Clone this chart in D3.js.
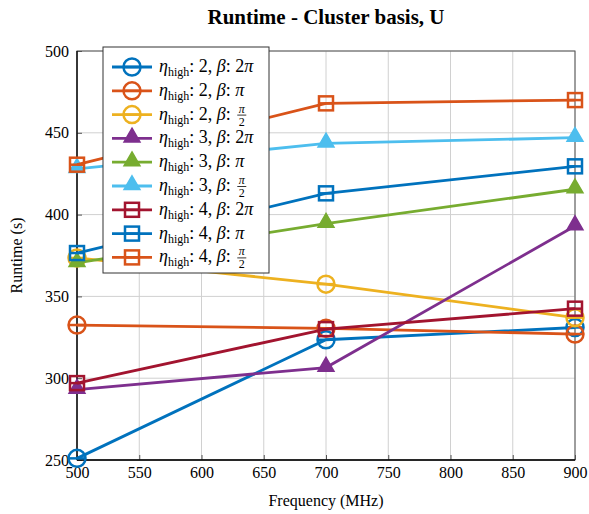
<!DOCTYPE html>
<html>
<head>
<meta charset="utf-8">
<script src="https://cdn.jsdelivr.net/npm/d3@7"></script>
<style>
body { margin: 0; background: #fff; }
text { font-family: "Liberation Serif", "DejaVu Serif", serif; }
</style>
</head>
<body>
<svg id="chart" width="589" height="514"></svg>
<script>
// dati
var frequenze = [500, 700, 900];
var etichetteX = [500, 550, 600, 650, 700, 750, 800, 850, 900];
var etichetteY = [250, 300, 350, 400, 450, 500];

var etaHigh = [2, 2, 2, 3, 3, 3, 4, 4, 4];
var beta = ["2π", "π", "π/2", "2π", "π", "π/2", "2π", "π", "π/2"];
var marcatori = ["circle", "circle", "circle", "triangle", "triangle", "triangle", "square", "square", "square"];
var colori = ["#0072BD", "#D95319", "#EDB120", "#7E2F8E", "#77AC30", "#4DBEEE", "#A2142F", "#0072BD", "#D95319"];

var valori = [
    [251, 323.5, 331],
    [332.5, 330.5, 327],
    [373.5, 357.5, 337],
    [293, 306.5, 393],
    [370.5, 394.5, 415.5],
    [428, 443.5, 447],
    [297, 330, 342.5],
    [376.5, 413, 429.5],
    [430.5, 468, 470]
];

var svg = d3.select("#chart");
var mSin = 77, mDes = 575, mSu = 51, mGiu = 460;

var x = d3.scaleLinear().domain([500, 900]).range([mSin, mDes]);
var y = d3.scaleLinear().domain([250, 500]).range([mGiu, mSu]);

// griglia
svg.append("g").selectAll("line").data(etichetteX).enter().append("line")
    .attr("x1", function(d){ return x(d); }).attr("x2", function(d){ return x(d); })
    .attr("y1", mSu).attr("y2", mGiu)
    .attr("stroke", "#d0d0d0").attr("stroke-width", 1);
svg.append("g").selectAll("line").data(etichetteY).enter().append("line")
    .attr("y1", function(d){ return y(d); }).attr("y2", function(d){ return y(d); })
    .attr("x1", mSin).attr("x2", mDes)
    .attr("stroke", "#d0d0d0").attr("stroke-width", 1);

// assi
var assex = d3.axisBottom(x).tickValues(etichetteX).tickSize(-5).tickPadding(7).tickFormat(d3.format("d"));
var assey = d3.axisLeft(y).tickValues(etichetteY).tickSize(-5).tickPadding(8).tickFormat(d3.format("d"));

var gx = svg.append("g").attr("transform", "translate(0," + mGiu + ")").call(assex);
var gy = svg.append("g").attr("transform", "translate(" + mSin + ",0)").call(assey);
[gx, gy].forEach(function(g){
    g.select(".domain").remove();
    g.selectAll(".tick line").attr("stroke", "#555");
    g.selectAll("text").attr("font-size", "16px").attr("fill", "#000")
        .style("font-family", "'Liberation Serif', serif");
});

// bordo
svg.append("rect").attr("x", mSin).attr("y", mSu).attr("width", mDes - mSin).attr("height", mGiu - mSu)
    .attr("fill", "none").attr("stroke", "#555").attr("stroke-width", 1);
svg.append("line").attr("x1", mSin).attr("x2", mSin).attr("y1", mSu).attr("y2", mGiu)
    .attr("stroke", "#000").attr("stroke-width", 1.3);
svg.append("line").attr("x1", mSin).attr("x2", mDes).attr("y1", mGiu).attr("y2", mGiu)
    .attr("stroke", "#000").attr("stroke-width", 1.3);

// titoli
svg.append("text").attr("x", 326).attr("y", 24).attr("text-anchor", "middle")
    .attr("font-size", "21px").attr("font-weight", "bold").text("Runtime - Cluster basis, U");
svg.append("text").attr("x", 326).attr("y", 506).attr("text-anchor", "middle")
    .attr("font-size", "16px").text("Frequency (MHz)");
svg.append("text").attr("transform", "translate(22," + ((mSu + mGiu) / 2) + ") rotate(-90)")
    .attr("text-anchor", "middle").attr("font-size", "16px").text("Runtime (s)");

function disegnaMarcatore(g, tipo, colore, cx, cy) {
    if (tipo == "circle") {
        g.append("circle").attr("cx", cx).attr("cy", cy).attr("r", 8.5)
            .attr("fill", "none").attr("stroke", colore).attr("stroke-width", 2.5);
        g.append("line").attr("x1", cx - 8.5).attr("x2", cx + 8.5).attr("y1", cy).attr("y2", cy)
            .attr("stroke", colore).attr("stroke-width", 2.5);
    } else if (tipo == "square") {
        g.append("rect").attr("x", cx - 7).attr("y", cy - 7).attr("width", 14).attr("height", 14)
            .attr("fill", "none").attr("stroke", colore).attr("stroke-width", 2.5);
        g.append("line").attr("x1", cx - 7).attr("x2", cx + 7).attr("y1", cy).attr("y2", cy)
            .attr("stroke", colore).attr("stroke-width", 2.5);
    } else {
        var tri = d3.symbol().type(d3.symbolTriangle).size(110);
        g.append("path").attr("d", tri).attr("transform", "translate(" + cx + "," + (cy - 1) + ")")
            .attr("fill", colore).attr("stroke", colore).attr("stroke-width", 1.5);
    }
}

// serie
var linea = d3.line().x(function(d){ return x(d[0]); }).y(function(d){ return y(d[1]); });
valori.forEach(function(serie, i) {
    var punti = frequenze.map(function(f, j){ return [f, serie[j]]; });
    var g = svg.append("g");
    g.append("path").attr("d", linea(punti)).attr("fill", "none")
        .attr("stroke", colori[i]).attr("stroke-width", 2.8);
    punti.forEach(function(p){
        disegnaMarcatore(g, marcatori[i], colori[i], x(p[0]), y(p[1]));
    });
});

// leggenda
var leg = svg.append("g");
leg.append("rect").attr("x", 103).attr("y", 47).attr("width", 166).attr("height", 226)
    .attr("fill", "#fff").attr("stroke", "#333").attr("stroke-width", 1);

valori.forEach(function(serie, i) {
    var cy = 67 + i * 23.8;
    leg.append("line").attr("x1", 112).attr("x2", 152).attr("y1", cy).attr("y2", cy)
        .attr("stroke", colori[i]).attr("stroke-width", 2.8);
    disegnaMarcatore(leg, marcatori[i], colori[i], 132, cy);

    var t = leg.append("text").attr("x", 159).attr("y", cy + 5).attr("font-size", "18px");
    t.append("tspan").attr("font-style", "italic").text("η");
    t.append("tspan").attr("font-size", "12px").attr("dy", 4).text("high");
    t.append("tspan").attr("dy", -4).text(": " + etaHigh[i] + ", ");
    t.append("tspan").attr("font-style", "italic").text("β");
    if (beta[i] == "π/2") {
        t.append("tspan").text(":");
        var bb = t.node().getBBox();
        var fx = bb.x + bb.width + 11;
        leg.append("text").attr("x", fx).attr("y", cy - 2).attr("text-anchor", "middle")
            .attr("font-size", "12px").attr("font-style", "italic").text("π");
        leg.append("line").attr("x1", fx - 4.5).attr("x2", fx + 4.5).attr("y1", cy + 0.5).attr("y2", cy + 0.5)
            .attr("stroke", "#000").attr("stroke-width", 0.8);
        leg.append("text").attr("x", fx).attr("y", cy + 11).attr("text-anchor", "middle")
            .attr("font-size", "12px").text("2");
    } else {
        t.append("tspan").text(":  " + beta[i].replace("π", ""));
        t.append("tspan").attr("font-style", "italic").text("π");
    }
});
</script>
</body>
</html>
